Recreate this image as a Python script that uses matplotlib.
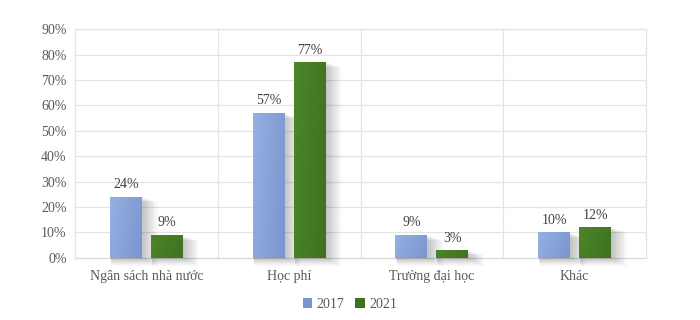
import numpy as np
import matplotlib
matplotlib.use("Agg")
import matplotlib.pyplot as plt
from matplotlib.colors import LinearSegmentedColormap

plt.rcParams['font.family'] = ['Liberation Serif', 'DejaVu Serif']

# data
categories = ["Ngân sách nhà nước", "Học phí", "Trường đại học", "Khác"]
years = ["2017", "2021"]
vals_2017 = [24, 57, 9, 10]
vals_2021 = [9, 77, 3, 12]

TEXT = "#595959"
GRID = "#e4e4e4"
BLUE = ("#94b1e2", "#7995ce")   # light -> dark
GREEN = ("#4d852a", "#3f7121")

fig = plt.figure(figsize=(7, 3.2), dpi=100)
ax = fig.add_axes([0.107, 0.194, 0.816, 0.715])

x = np.arange(len(categories))
width = 0.224
offset = 0.143


def gradient_bars(xs, heights, cols, label):
    bars = ax.bar(xs, heights, width, color=cols[1], label=label, zorder=3)
    cmap = LinearSegmentedColormap.from_list("g", cols)
    gx, gy = np.meshgrid(np.linspace(0, 1, 64), np.linspace(0, 1, 64))
    grad = 0.75 * gx + 0.25 * gy
    for b in bars:
        x0, h = b.get_x(), b.get_height()
        # soft shadow behind the bar, mostly to the right
        for k in range(1, 11):
            sh = ax.bar(x0 + width / 2 + 0.006 * k, h + 0.1 * k, width + 0.01 * k,
                        bottom=-0.3 * k, color="#000000", alpha=0.022, zorder=2,
                        linewidth=0)
            sh[0].set_clip_on(False)
        im = ax.imshow(grad, cmap=cmap, aspect="auto", zorder=3.5,
                       extent=[x0, x0 + width, 0, h])
        im.set_clip_path(b)
        ax.annotate(f"{h:.0f}%", (x0 + width / 2, h), xytext=(0, 4),
                    textcoords="offset points", ha="center", va="bottom",
                    fontsize=10, color="#404040", zorder=5)
    return bars


gradient_bars(x - offset, vals_2017, BLUE, years[0])
gradient_bars(x + offset, vals_2021, GREEN, years[1])

ax.set_xlim(-0.5, len(categories) - 0.5)
ax.set_ylim(0, 90)
ax.set_yticks(np.arange(0, 91, 10))
ax.set_yticklabels([f"{v}%" for v in range(0, 91, 10)])
ax.set_xticks(x)
ax.set_xticklabels(categories)
ax.tick_params(length=0, labelsize=10, colors=TEXT, pad=6)
ax.tick_params(axis="x", pad=9)

for v in range(10, 91, 10):
    ax.axhline(v, color=GRID, lw=0.9, zorder=1)
for b in np.arange(0.5, len(categories) - 1, 1):
    ax.axvline(b, color=GRID, lw=0.9, zorder=1)
for s in ax.spines.values():
    s.set_color(GRID)
    s.set_linewidth(0.9)
    s.set_zorder(1)
ax.spines["bottom"].set_color("#d9d9d9")

handles, labels = ax.get_legend_handles_labels()
fig.legend(handles, labels, loc="center", bbox_to_anchor=(0.5, 0.05), ncol=2,
           frameon=False, fontsize=10, labelcolor=TEXT, handlelength=0.7,
           handleheight=0.7, handletextpad=0.3, columnspacing=0.8)

fig.savefig("out.png", dpi=100, facecolor="white")
